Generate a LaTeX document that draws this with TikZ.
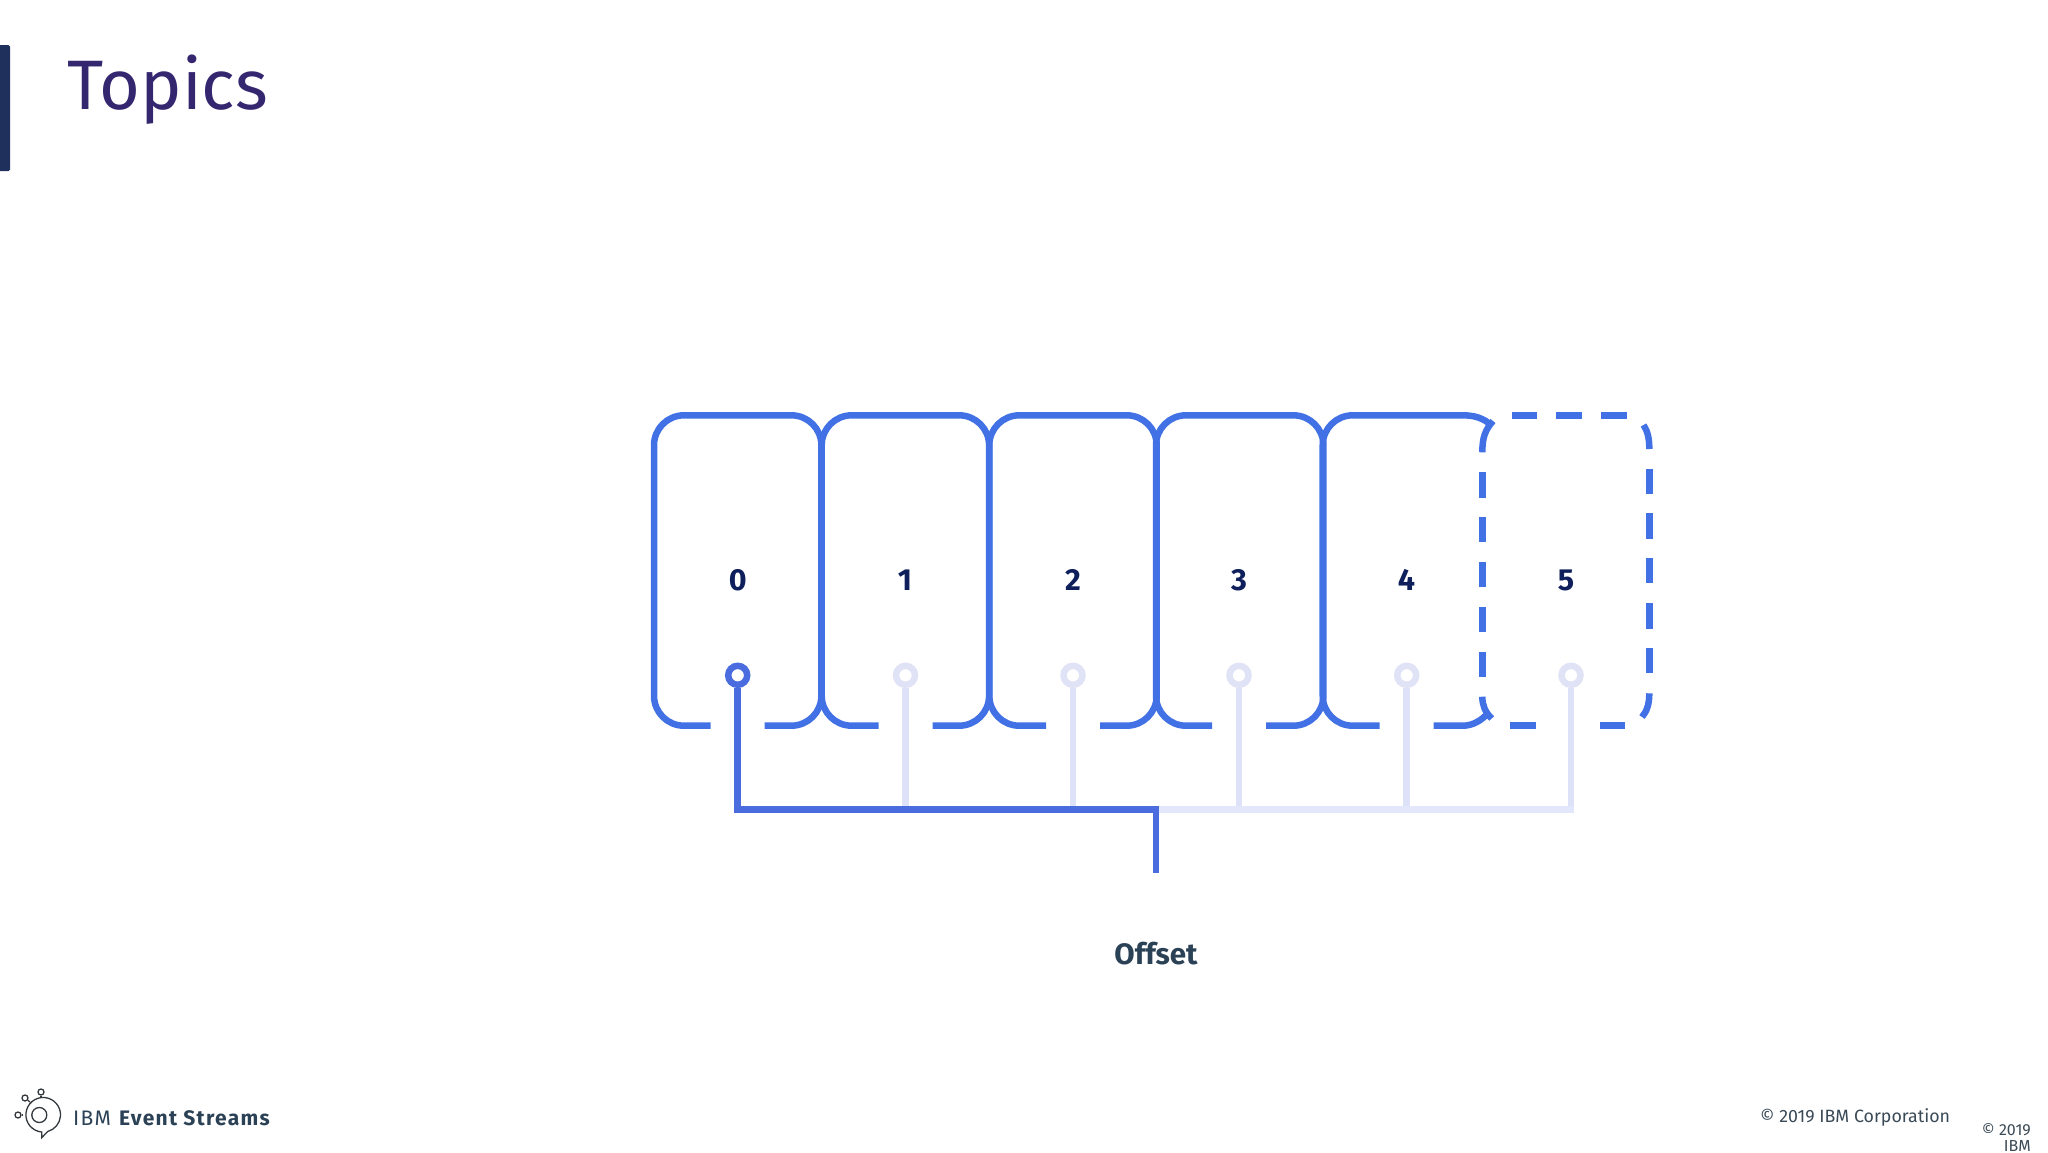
\documentclass[tikz,border=0pt]{standalone}
\usepackage{fontspec}
\setmainfont{Fira Sans}
\definecolor{blu}{HTML}{4271E5}
\definecolor{trunkc}{HTML}{4A6CDF}
\definecolor{pale}{HTML}{DDE2F8}
\definecolor{palet}{HTML}{E3E7FB}
\definecolor{ringp}{HTML}{E0E2F6}
\definecolor{digit}{HTML}{0E1F5B}
\definecolor{slate}{HTML}{2B4155}
\definecolor{titlec}{HTML}{35276F}
\definecolor{barc}{HTML}{20305C}
\definecolor{logoc}{HTML}{33383D}
\definecolor{foot}{HTML}{3A4A56}
\tikzset{
  boxline/.style={draw=blu,line width=6.5pt},
  boxround/.style={boxline,rounded corners=30pt},
  stem/.style={draw=pale,line width=6.5pt},
  trunk/.style={draw=trunkc,line width=6.5pt},
  ringa/.style={circle,draw=trunkc,fill=white,line width=6.5pt,minimum size=19pt,inner sep=0pt},
  ringb/.style={circle,draw=ringp,fill=white,line width=6.5pt,minimum size=19pt,inner sep=0pt},
  digitlabel/.style={font=\fontsize{30.5}{30.5}\selectfont\bfseries,text=digit,inner sep=0pt,anchor=base},
  logoline/.style={draw=logoc,line width=1.3pt},
  dotc/.style={circle,draw=logoc,line width=1.3pt,minimum size=6pt,inner sep=0pt},
}
\begin{document}
\begin{tikzpicture}[x=1pt,y=-1pt]
\useasboundingbox (0,0) rectangle (2048,1152);
% title
\fill[barc,rounded corners=1.5pt] (-5,45) rectangle (10,171);
\node[anchor=base west,inner sep=0pt,text=titlec,font=\fontsize{70}{70}\selectfont] (title) at (67,109) {Topics};
% solid boxes
\foreach \l/\s in {654/737.7,821.7/905.5,989.3/1073,1156/1239}{
  \pgfmathsetmacro{\r}{\l+167.4}
  \pgfmathsetmacro{\ga}{\s-27}
  \pgfmathsetmacro{\gb}{\s+27}
  \draw[boxround] (\ga,725.7) -- (\l,725.7) -- (\l,415.3) -- (\r,415.3) -- (\r,725.7) -- (\gb,725.7);
}
% box 4 (open on its right)
\draw[boxline] (1433.7,725.7) -- (1463,725.7) .. controls (1473,725.7) and (1482,720) .. (1488,713);
\draw[boxround] (1379.7,725.7) -- (1322.7,725.7) -- (1322.7,415.3) -- (1463,415.3);
\draw[boxline] (1463,415.3) .. controls (1474,415.3) and (1484,418) .. (1492,426);
% box 5 dashed
\draw[boxline] (1482.3,452.3) .. controls (1482.3,438) and (1485,430) .. (1493,421);
\foreach \a/\b in {471.7/497.7,516.7/542.3,561.7/587,606.7/631.7,651.7/676.7}{
  \draw[boxline] (1482.3,\a) -- (1482.3,\b);
}
\draw[boxline] (1482.3,696.7) .. controls (1482.3,705) and (1485,712) .. (1491.7,718.5);
\foreach \a/\b in {1511.7/1537,1556.3/1581.7,1601/1626.7}{
  \draw[boxline] (\a,415.3) -- (\b,415.3);
}
\draw[boxline] (1643.5,425) .. controls (1647.5,431) and (1649.3,438) .. (1649.3,449);
\foreach \a/\b in {468.7/494.3,513.3/539,558.3/583.3,603.3/628.7,648/673.3}{
  \draw[boxline] (1649.3,\a) -- (1649.3,\b);
}
\draw[boxline] (1649.3,693.3) .. controls (1649.3,704) and (1647,711) .. (1642,717);
\draw[boxline] (1510.3,725.7) -- (1536,725.7);
\draw[boxline] (1600,725.7) -- (1625.3,725.7);
% digits
\foreach \n/\x in {0/737.7,1/905,2/1073,3/1239,4/1406.5,5/1566}{
  \node[digitlabel] (d\n) at (\x,590) {\n};
}
% junctions
\coordinate (j0) at (737.7,809.5);
\coordinate (j1) at (905.5,809.5);
\coordinate (j2) at (1073,809.5);
\coordinate (j3) at (1239,809.5);
\coordinate (j4) at (1406.7,809.5);
\coordinate (j5) at (1571,809.5);
\coordinate (t) at (1156,809.5);
\coordinate (oe) at (1156,873);
% ring nodes and stems
\node[ringb] (c1) at (905.5,675.3) {};
\node[ringb] (c2) at (1073,675.3) {};
\node[ringb] (c3) at (1239,675.3) {};
\node[ringb] (c4) at (1406.7,675.3) {};
\node[ringb] (c5) at (1571,675.3) {};
\foreach \i in {1,...,5}{
  \draw[stem] (c\i) -- (j\i);
}
\draw[stem,draw=palet,line cap=rect] (t) -- (j5);
\node[ringa] (c0) at (737.7,675.3) {};
\draw[trunk] (c0) -- (j0);
\draw[trunk,line cap=rect] (j0) -- (t);
\draw[trunk] (1156,806.5) -- (oe);
\node[font=\fontsize{29.5}{29.5}\selectfont\bfseries,text=slate,inner sep=0pt,anchor=base] (offset) at (1156,964) {Offset};
% logo
\node[circle,draw=logoc,line width=1.3pt,minimum size=15pt,inner sep=0pt] (logoin) at (39.3,1115) {};
\draw[logoline] (41.7,1137.7) -- (41.7,1132) arc[start angle=95,end angle=435,radius=17.3] -- cycle;
\node[dotc] (l1) at (41,1092) {};
\node[dotc] (l2) at (25,1098) {};
\node[dotc] (l3) at (18,1115) {};
\draw[logoline] (l1) -- (41,1098);
\draw[logoline] (l2) -- (30,1102);
\draw[logoline] (l3) -- (22,1115);
\node[anchor=base west,inner sep=0pt,text=slate,font=\fontsize{21}{21}\selectfont\addfontfeature{LetterSpace=6}] (brand) at (73,1125) {IBM \textbf{Event Streams}};
% footer
\node[anchor=base west,inner sep=0pt,text=foot,font=\fontsize{17.8}{18}\selectfont] (copy) at (1760,1122) {© 2019 IBM Corporation};
\node[anchor=base east,inner sep=0pt,text=foot,font=\fontsize{16}{16}\selectfont] (copya) at (2031,1135) {© 2019};
\node[anchor=base east,inner sep=0pt,text=foot,font=\fontsize{16}{16}\selectfont] (copyb) at (2031,1151.7) {IBM};
\end{tikzpicture}
\end{document}
